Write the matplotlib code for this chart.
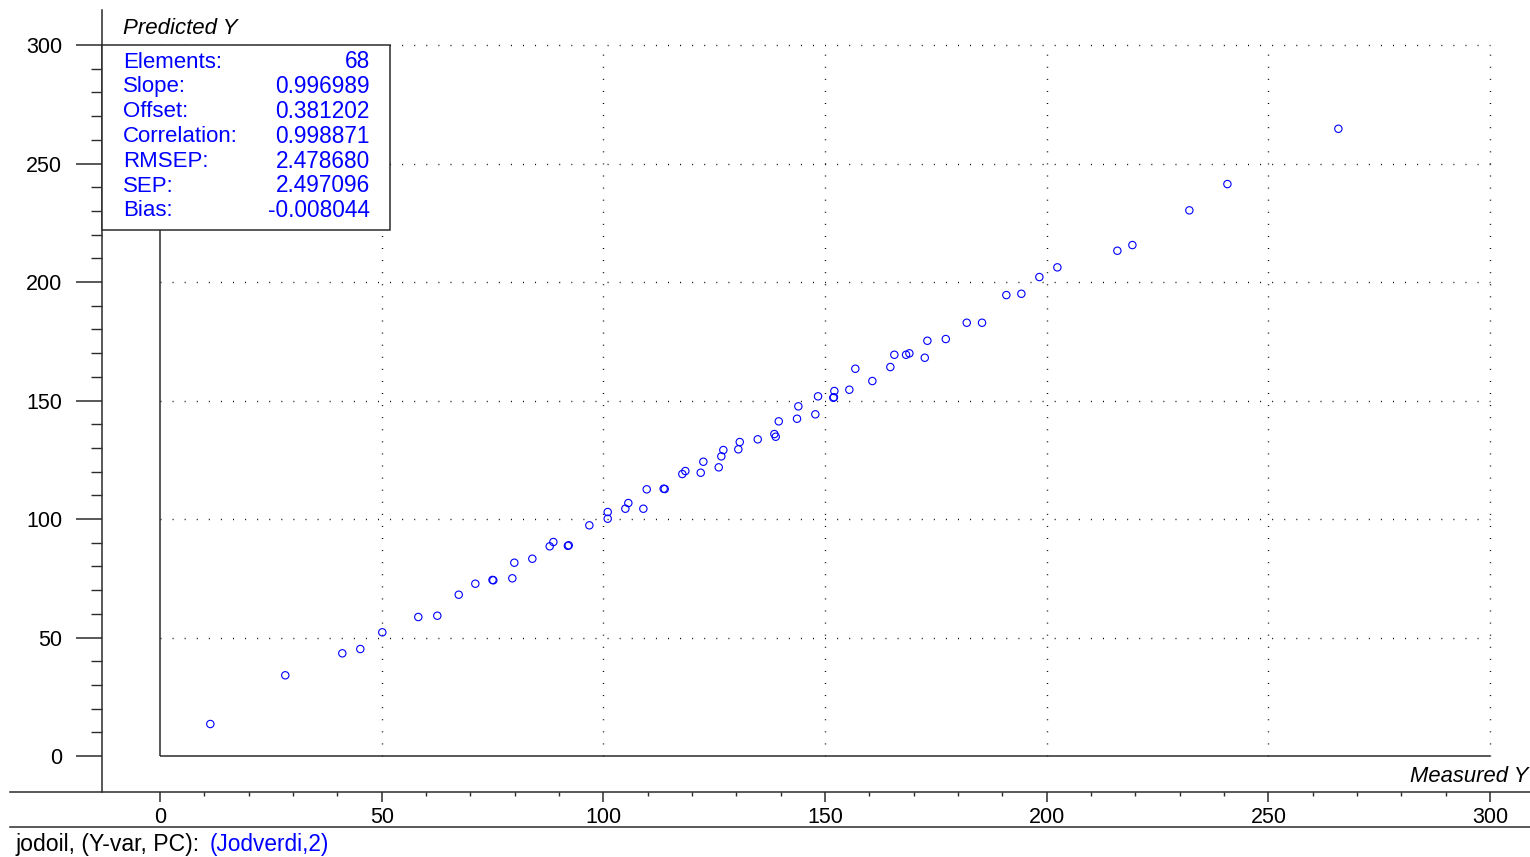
import numpy as np
import matplotlib
matplotlib.use("Agg")
import matplotlib.pyplot as plt
from matplotlib.patches import Rectangle
from matplotlib.lines import Line2D
from matplotlib.ticker import FixedLocator

plt.rcParams['font.family'] = ['Liberation Sans', 'DejaVu Sans']

# measured vs predicted
measured_y = [11.35, 28.26, 41.12, 45.18, 50.14, 58.26, 62.55, 67.38, 71.12, 75.18,
              75.0, 79.47, 79.92, 83.98, 87.90, 88.72, 92.19, 92.0, 96.84, 100.98,
              100.98, 104.96, 105.63, 109.02, 109.78, 113.84, 113.6, 117.81, 118.49, 121.96,
              122.55, 126.02, 126.61, 127.06, 130.44, 130.76, 134.82, 138.57, 138.88, 139.56,
              143.68, 143.98, 147.81, 148.42, 151.87, 152.0, 152.10, 155.48, 156.83, 160.67,
              164.73, 165.63, 168.27, 169.02, 172.49, 173.08, 177.23, 181.96, 185.41, 190.89,
              194.28, 198.34, 202.40, 215.93, 219.32, 232.17, 240.75, 265.78]
predicted_y = [13.50, 34.05, 43.33, 45.15, 52.19, 58.65, 59.20, 68.06, 72.70, 74.14,
               74.3, 74.98, 81.56, 83.25, 88.48, 90.30, 88.90, 88.7, 97.34, 100.13,
               102.95, 104.35, 106.75, 104.35, 112.53, 112.66, 112.8, 118.99, 120.25, 119.54,
               124.18, 121.81, 126.45, 129.11, 129.41, 132.49, 133.63, 135.86, 134.73, 141.22,
               142.32, 147.55, 144.18, 151.77, 151.18, 151.4, 154.01, 154.56, 163.42, 158.23,
               164.14, 169.32, 169.32, 169.92, 168.06, 175.23, 175.95, 182.83, 182.83, 194.51,
               195.06, 202.11, 206.20, 213.21, 215.61, 230.25, 241.35, 264.68]

stat_names = ["Elements:", "Slope:", "Offset:", "Correlation:", "RMSEP:", "SEP:", "Bias:"]
stat_values = ["68", "0.996989", "0.381202", "0.998871", "2.478680", "2.497096", "-0.008044"]

x_ticks = [0, 50, 100, 150, 200, 250, 300]
y_ticks = [0, 50, 100, 150, 200, 250, 300]

W, H = 1530, 857
AX_COL = '#2b2b2b'
BLUE = '#0000ff'


def fpos(x, y):
    # pixel position -> figure fraction
    return x / W, 1 - y / H


fig = plt.figure(figsize=(W / 100, H / 100), dpi=100)
ax = fig.add_axes([10 / W, 1 - 792 / H, 1520 / W, 782 / H])
ax.set_xlim(-33.83, 309.0)
ax.set_ylim(-15.19, 314.8)

for side in ['top', 'right']:
    ax.spines[side].set_visible(False)
ax.spines['left'].set_position(('data', -13.08))
for side in ['left', 'bottom']:
    ax.spines[side].set_color(AX_COL)
    ax.spines[side].set_linewidth(1.1)

ax.xaxis.set_major_locator(FixedLocator(x_ticks))
ax.xaxis.set_minor_locator(FixedLocator([v for v in range(10, 300, 10) if v % 50]))
ax.yaxis.set_major_locator(FixedLocator(y_ticks))
ax.yaxis.set_minor_locator(FixedLocator([v for v in range(10, 300, 10) if v % 50]))
ax.tick_params(axis='x', which='major', direction='out', length=7.2, width=1.1,
               color=AX_COL, labelsize=15.5, pad=3.5)
ax.tick_params(axis='x', which='minor', direction='out', length=2.9, width=1.0, color=AX_COL)
ax.tick_params(axis='y', which='major', direction='out', length=18.7, width=1.1,
               color=AX_COL, labelsize=15.5, pad=10)
ax.tick_params(axis='y', which='minor', direction='out', length=7.9, width=1.0, color=AX_COL)

# dotted grid inside the 0..300 square
grid_pos = x_ticks[1:]
ax.vlines(grid_pos, 0, 300, colors='black', linewidth=1.0, linestyles=(0, (0.7, 8.0)), zorder=1)
ax.hlines(grid_pos, 0, 300, colors='black', linewidth=1.0, linestyles=(0, (0.7, 8.0)), zorder=1)

# inner axes at origin
ax.vlines(0, 0, 300, colors=AX_COL, linewidth=1.1, zorder=2)
ax.hlines(0, 0, 300, colors=AX_COL, linewidth=1.1, zorder=2)

ax.scatter(measured_y, predicted_y, s=28, facecolors='none', edgecolors=BLUE,
           linewidths=0.8, zorder=3)

# statistics box
x0, y0 = fpos(102, 230)
fig.add_artist(Rectangle((x0, y0), 288 / W, 185 / H, transform=fig.transFigure,
                         facecolor='white', edgecolor=AX_COL, linewidth=1.1, zorder=5))
for i, (name, val) in enumerate(zip(stat_names, stat_values)):
    ypx = 62 + i * 24.8
    fig.text(*fpos(123, ypx), name, color=BLUE, fontsize=16, ha='left', va='center', zorder=6)
    fig.text(*fpos(370, ypx), val, color=BLUE, fontsize=16.3, ha='right', va='center', zorder=6)

fig.text(*fpos(123, 29), "Predicted Y", fontsize=16, style='italic', ha='left', va='center')
fig.text(*fpos(1528, 777), "Measured Y", fontsize=15.8, style='italic', ha='right', va='center')

# footer
fig.add_artist(Line2D([10 / W, 1.0], [1 - 827 / H, 1 - 827 / H], transform=fig.transFigure,
                      color=AX_COL, linewidth=1.1))
fig.text(*fpos(16, 845), "jodoil, (Y-var, PC):", fontsize=16.6, ha='left', va='center')
fig.text(*fpos(210, 845), "(Jodverdi,2)", fontsize=16.3, color=BLUE, ha='left', va='center')

fig.savefig("out.png", dpi=100)
